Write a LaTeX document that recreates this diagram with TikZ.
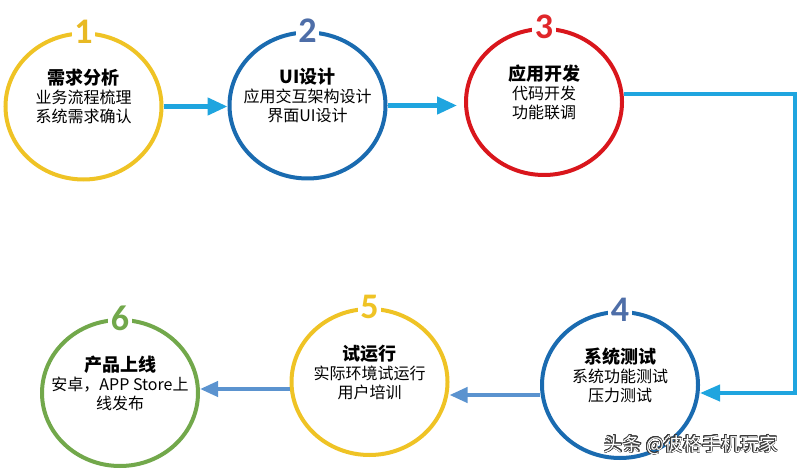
\documentclass[tikz,border=0pt]{standalone}
\usepackage{fontspec}
\setmainfont{Noto Sans CJK SC}
\newfontfamily\numfont{Carlito}
\usepackage[copies]{contour}
\usetikzlibrary{shapes.geometric,arrows.meta}
\definecolor{cyel}{HTML}{EFC325}
\definecolor{cblu}{HTML}{1A6BB0}
\definecolor{cred}{HTML}{D9161C}
\definecolor{cgrn}{HTML}{72A84B}
\definecolor{nyel}{HTML}{E8B923}
\definecolor{nblu}{HTML}{4E6EA8}
\definecolor{nred}{HTML}{E0262A}
\definecolor{arA}{HTML}{1FA5DF}
\definecolor{arB}{HTML}{5B93CF}
\definecolor{wmgray}{HTML}{3A3A3A}
\begin{document}
\begin{tikzpicture}[x=1pt,y=-1pt,
  stage/.style={ellipse, draw=#1, fill=white, line width=4pt, minimum width=156pt, minimum height=146pt, inner sep=0pt},
  num/.style={fill=white, text=#1, font=\numfont\bfseries\fontsize{36}{36}\selectfont, inner sep=2.5pt},
  desc/.style={align=center, font=\fontsize{16}{19}\selectfont, text=black},
  arrA/.style={draw=arA, line width=4.5pt, -{Triangle[length=20pt,width=17pt]}},
  arrC/.style={draw=arA, line width=4pt, -{Triangle[length=20pt,width=16pt]}},
  arrB/.style={draw=arB, line width=4pt, -{Triangle[length=18pt,width=15pt]}}]
\useasboundingbox (0,0) rectangle (799,470);
% stages
\node[stage=cyel] (c1) at (83.5,106.5) {};
\node[stage=cblu] (c2) at (307.5,105.5) {};
\node[stage=cred] (c3) at (544,102) {};
\node[stage=cblu] (c4) at (620,385) {};
\node[stage=cyel] (c5) at (369.5,382) {};
\node[stage=cgrn] (c6) at (120,393) {};
% numbers
\node[num=nyel] (n1) at (c1.north) {1};
\node[num=nblu] (n2) at (c2.north) {2};
\node[num=nred] (n3) at (c3.north) {3};
\node[num=nblu] (n4) at (c4.north) {4};
\node[num=cyel] (n5) at (c5.north) {5};
\node[num=cgrn] (n6) at (c6.north) {6};
% texts
\node[desc] (t1) at ([yshift=10pt]c1.center) {{\fontsize{18}{21}\selectfont\bfseries 需求分析}\\ 业务流程梳理\\ 系统需求确认};
\node[desc] (t2) at ([yshift=10pt]c2.center) {{\fontsize{18}{21}\selectfont\bfseries UI设计}\\ 应用交互架构设计\\ 界面UI设计};
\node[desc] (t3) at ([yshift=10pt]c3.center) {{\fontsize{18}{21}\selectfont\bfseries 应用开发}\\ 代码开发\\ 功能联调};
\node[desc] (t4) at ([yshift=10pt]c4.center) {{\fontsize{18}{21}\selectfont\bfseries 系统测试}\\ 系统功能测试\\ 压力测试};
\node[desc] (t5) at ([yshift=10pt]c5.center) {{\fontsize{18}{21}\selectfont\bfseries 试运行}\\ 实际环境试运行\\ 用户培训};
\node[desc] (t6) at ([yshift=10pt]c6.center) {{\fontsize{18}{21}\selectfont\bfseries 产品上线}\\ 安卓，APP Store上\\ 线发布};
% connectors
\coordinate (k1) at (795,94);
\coordinate (k2) at (795,393);
\draw[arrA] (c1.east) -- (c1.east -| c2.west);
\draw[arrA] (c2.east) -- ([xshift=-7pt]c2.east -| c3.west);
\draw[arrC] (c3.east |- k1) -- (k1) -- (k2) -- (k2 -| c4.east);
\draw[arrB] (c4.west |- 0,395) -- (c5.east |- 0,395);
\draw[arrB] (c5.west |- 0,389) -- (c6.east |- 0,389);
% watermark
\contourlength{0.7pt}
\node[font=\fontsize{19}{19}\selectfont, inner sep=0pt] (wm) at (691,445) {\contour{wmgray}{\textcolor{white}{头条 @彼格手机玩家}}};
\end{tikzpicture}
\end{document}
